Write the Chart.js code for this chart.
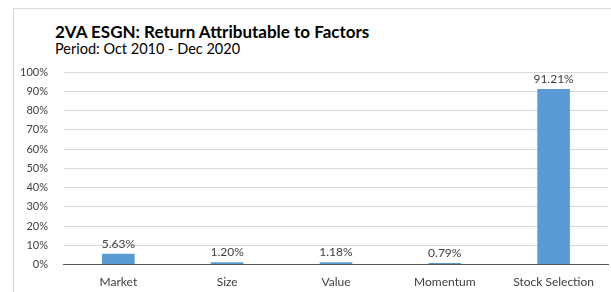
<!DOCTYPE html>
<html lang="en">
<head>
  <meta charset="UTF-8">
  <title>Return Attributable to Factors</title>
  <style>
    body {
      margin: 0;
      padding: 0;
      background: #fff;
      font-family: Lato, "Open Sans", sans-serif;
    }
    #wrap {
      position: relative;
      width: 611px;
      height: 292px;
      overflow: hidden;
    }
    #frame {
      position: absolute;
      left: 13px;
      top: 8px;
      width: 610px;
      height: 300px;
      border-top: 1px solid #d9d9d9;
      border-left: 1px solid #d9d9d9;
    }
    #titulo {
      position: absolute;
      left: 55px;
      top: 21px;
      font-size: 17px;
      font-weight: bold;
      color: #000;
      white-space: nowrap;
    }
    #subtitulo {
      position: absolute;
      left: 55px;
      top: 40px;
      font-size: 14.5px;
      color: #000;
      white-space: nowrap;
    }
    canvas {
      position: absolute;
      left: 0;
      top: 0;
    }
  </style>
  <script src="https://cdn.jsdelivr.net/npm/chart.js"></script>
</head>
<body>
  <div id="wrap">
    <div id="frame"></div>
    <div id="titulo">2VA ESGN: Return Attributable to Factors</div>
    <div id="subtitulo">Period: Oct 2010 - Dec 2020</div>
    <canvas id="grafico" width="611" height="292"></canvas>
  </div>

  <script>
    const categorias = ['Market', 'Size', 'Value', 'Momentum', 'Stock Selection'];
    const retornos = [5.63, 1.20, 1.18, 0.79, 91.21];
    const rotulos = ['5.63%', '1.20%', '1.18%', '0.79%', '91.21%'];
    const yMax = 100;
    const yPasso = 10;

    // rótulos em cima das barras
    const rotulosBarras = {
      id: 'rotulosBarras',
      afterDatasetsDraw(chart) {
        const ctx = chart.ctx;
        const meta = chart.getDatasetMeta(0);
        ctx.save();
        ctx.font = '12px Lato, "Open Sans", sans-serif';
        ctx.fillStyle = '#404040';
        ctx.textAlign = 'center';
        ctx.textBaseline = 'bottom';
        meta.data.forEach((bar, i) => {
          ctx.fillText(rotulos[i], bar.x, bar.y - 4);
        });
        ctx.restore();
      }
    };

    new Chart(document.getElementById('grafico'), {
      type: 'bar',
      data: {
        labels: categorias,
        datasets: [{
          data: retornos,
          backgroundColor: '#5b9bd5',
          borderWidth: 0,
          categoryPercentage: 1,
          barPercentage: 0.3
        }]
      },
      options: {
        responsive: false,
        animation: false,
        devicePixelRatio: 1,
        layout: {
          padding: { top: 72, left: 4, right: 3, bottom: -7 }
        },
        plugins: {
          legend: { display: false },
          tooltip: { enabled: false }
        },
        scales: {
          x: {
            grid: { display: false, drawTicks: false },
            border: { display: true, color: '#595959', width: 1 },
            ticks: {
              color: '#404040',
              padding: 10,
              font: { family: 'Lato, "Open Sans", sans-serif', size: 12 }
            }
          },
          y: {
            min: 0,
            max: yMax,
            grid: {
              drawTicks: false,
              color: ctx => ctx.tick && ctx.tick.value === 0 ? 'rgba(0,0,0,0)' : '#d9d9d9'
            },
            border: { display: false },
            ticks: {
              stepSize: yPasso,
              color: '#404040',
              padding: 16,
              font: { family: 'Lato, "Open Sans", sans-serif', size: 11 },
              callback: v => v + '%'
            }
          }
        }
      },
      plugins: [rotulosBarras]
    });
  </script>
</body>
</html>
